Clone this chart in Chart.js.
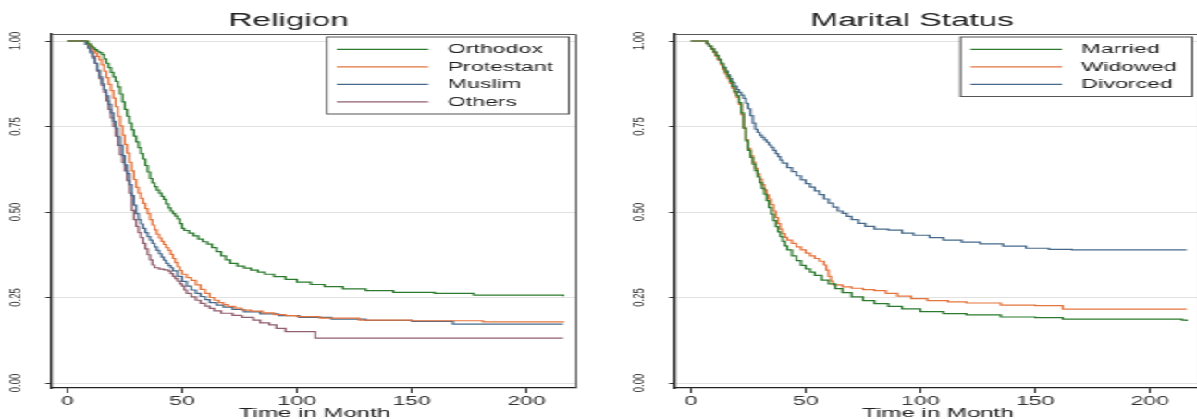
<!DOCTYPE html>
<html>
<head>
<meta charset="utf-8">
<script src="https://cdn.jsdelivr.net/npm/chart.js@4.4.1/dist/chart.umd.min.js"></script>
<style>
  html, body { margin: 0; padding: 0; background: #fff; overflow: hidden; }
  /* the reference is stretched sideways, so the charts are drawn narrow and widened */
  #stage { position: absolute; left: 0; top: 0; width: 647px; height: 419px; transform: scaleX(1.85); transform-origin: 0 0; }
  .panel { position: absolute; top: 0; width: 340px; height: 419px; }
  #left { left: 0; }
  #right { left: 336.8px; }
</style>
</head>
<body>
<div id="stage">
  <div class="panel" id="left"><canvas id="religion"></canvas></div>
  <div class="panel" id="right"><canvas id="marital"></canvas></div>
</div>
<script>
// ===== Data (Kaplan-Meier estimates) =====
const xTicks = [0, 50, 100, 150, 200];
const yTicks = [0, 0.25, 0.5, 0.75, 1];

// Religion
const religionLabels = ["Orthodox", "Protestant", "Muslim", "Others"];
const orthodoxTime = [0, 9, 10, 11, 12, 13, 14, 15, 16, 17, 18, 19, 20, 21, 22, 23, 24, 25, 26, 27, 28, 29, 30, 31, 32, 33, 34, 35, 36, 37, 38, 39, 40, 41, 42, 43, 44, 45, 46, 47, 48, 49, 50, 51, 53, 55, 57, 59, 61, 63, 65, 67, 69, 71, 74, 77, 80, 83, 86, 90, 95, 100, 106, 112, 120, 130, 142, 160, 177, 216];
const orthodoxSurv = [1, 0.992, 0.985, 0.980, 0.975, 0.970, 0.966, 0.960, 0.948, 0.935, 0.922, 0.908, 0.895, 0.882, 0.866, 0.845, 0.822, 0.800, 0.780, 0.760, 0.740, 0.722, 0.705, 0.688, 0.671, 0.655, 0.636, 0.617, 0.598, 0.585, 0.574, 0.564, 0.555, 0.546, 0.537, 0.524, 0.512, 0.503, 0.495, 0.488, 0.480, 0.466, 0.452, 0.446, 0.438, 0.430, 0.421, 0.413, 0.406, 0.396, 0.384, 0.372, 0.360, 0.350, 0.342, 0.336, 0.330, 0.324, 0.318, 0.311, 0.303, 0.295, 0.288, 0.282, 0.275, 0.270, 0.265, 0.262, 0.257, 0.254];
const protestantTime = [0, 9, 10, 11, 12, 13, 14, 15, 16, 17, 18, 19, 20, 21, 22, 23, 24, 25, 26, 27, 28, 29, 30, 31, 32, 33, 34, 35, 36, 37, 38, 39, 40, 41, 42, 43, 44, 45, 46, 47, 48, 49, 50, 52, 54, 56, 58, 60, 62, 64, 66, 68, 70, 73, 76, 80, 85, 90, 95, 100, 110, 127, 150, 181, 216];
const protestantSurv = [1, 0.990, 0.983, 0.975, 0.965, 0.955, 0.945, 0.930, 0.912, 0.893, 0.873, 0.855, 0.833, 0.808, 0.780, 0.752, 0.725, 0.698, 0.672, 0.645, 0.620, 0.595, 0.572, 0.555, 0.540, 0.525, 0.510, 0.495, 0.478, 0.462, 0.448, 0.435, 0.424, 0.414, 0.405, 0.396, 0.388, 0.376, 0.364, 0.352, 0.340, 0.329, 0.318, 0.308, 0.300, 0.287, 0.274, 0.262, 0.250, 0.242, 0.235, 0.229, 0.224, 0.219, 0.213, 0.210, 0.205, 0.200, 0.197, 0.194, 0.190, 0.184, 0.182, 0.179, 0.177];
const muslimTime = [0, 8, 9, 10, 11, 12, 13, 14, 15, 16, 17, 18, 19, 20, 21, 22, 23, 24, 25, 26, 27, 28, 29, 30, 31, 32, 33, 34, 35, 36, 37, 38, 39, 40, 41, 42, 43, 44, 45, 46, 48, 50, 52, 54, 56, 58, 60, 62, 65, 68, 72, 77, 84, 92, 101, 115, 130, 150, 168, 216];
const muslimSurv = [1, 0.990, 0.980, 0.965, 0.950, 0.935, 0.915, 0.895, 0.875, 0.857, 0.840, 0.815, 0.790, 0.765, 0.745, 0.720, 0.695, 0.665, 0.638, 0.612, 0.580, 0.548, 0.520, 0.495, 0.478, 0.465, 0.452, 0.440, 0.428, 0.418, 0.408, 0.398, 0.388, 0.378, 0.368, 0.359, 0.350, 0.343, 0.337, 0.328, 0.312, 0.297, 0.283, 0.272, 0.262, 0.253, 0.244, 0.235, 0.228, 0.222, 0.215, 0.208, 0.202, 0.197, 0.192, 0.187, 0.183, 0.180, 0.172, 0.172];
const othersTime = [0, 8, 9, 10, 11, 12, 13, 14, 15, 16, 17, 18, 19, 20, 21, 22, 23, 24, 25, 26, 27, 28, 29, 30, 31, 32, 33, 34, 35, 36, 37, 38, 40, 42, 44, 45, 46, 47, 48, 49, 50, 51, 52, 54, 56, 58, 60, 62, 64, 67, 72, 76, 81, 84, 88, 91, 95, 108, 216];
const othersSurv = [1, 0.990, 0.980, 0.970, 0.955, 0.935, 0.912, 0.890, 0.870, 0.850, 0.825, 0.800, 0.775, 0.750, 0.722, 0.695, 0.668, 0.645, 0.620, 0.592, 0.555, 0.505, 0.478, 0.458, 0.440, 0.425, 0.408, 0.392, 0.375, 0.360, 0.345, 0.337, 0.333, 0.331, 0.327, 0.320, 0.312, 0.305, 0.298, 0.290, 0.283, 0.272, 0.262, 0.252, 0.242, 0.233, 0.225, 0.218, 0.211, 0.204, 0.198, 0.192, 0.184, 0.176, 0.170, 0.160, 0.150, 0.131, 0.131];

// Marital status
const maritalLabels = ["Married", "Widowed", "Divorced"];
const marriedTime = [0, 7, 8, 9, 10, 11, 12, 13, 14, 15, 16, 17, 18, 19, 20, 21, 22, 23, 24, 25, 26, 27, 28, 29, 30, 31, 32, 33, 34, 35, 36, 37, 38, 39, 40, 41, 42, 44, 46, 48, 50, 52, 54, 57, 60, 63, 66, 70, 75, 80, 86, 92, 100, 110, 120, 135, 150, 162, 214, 216];
const marriedSurv = [1, 0.992, 0.985, 0.977, 0.968, 0.958, 0.947, 0.935, 0.922, 0.909, 0.896, 0.882, 0.867, 0.852, 0.840, 0.820, 0.790, 0.745, 0.708, 0.680, 0.660, 0.640, 0.621, 0.603, 0.586, 0.569, 0.552, 0.533, 0.513, 0.494, 0.475, 0.457, 0.442, 0.428, 0.414, 0.401, 0.389, 0.372, 0.358, 0.344, 0.334, 0.324, 0.315, 0.301, 0.290, 0.276, 0.264, 0.252, 0.241, 0.232, 0.224, 0.217, 0.209, 0.203, 0.199, 0.193, 0.191, 0.187, 0.184, 0.181];
const widowedTime = [0, 7, 8, 9, 10, 11, 12, 13, 14, 15, 16, 17, 18, 19, 20, 21, 22, 23, 24, 25, 26, 27, 28, 29, 30, 31, 32, 33, 34, 35, 36, 37, 38, 39, 40, 41, 42, 44, 46, 48, 50, 52, 54, 56, 58, 59, 60, 61, 62, 66, 70, 75, 80, 85, 90, 96, 103, 112, 120, 135, 150, 162, 216];
const widowedSurv = [1, 0.992, 0.985, 0.976, 0.966, 0.955, 0.943, 0.930, 0.917, 0.904, 0.890, 0.876, 0.862, 0.848, 0.835, 0.815, 0.785, 0.745, 0.712, 0.686, 0.665, 0.646, 0.628, 0.612, 0.596, 0.580, 0.565, 0.550, 0.538, 0.522, 0.503, 0.484, 0.466, 0.450, 0.437, 0.426, 0.418, 0.408, 0.398, 0.389, 0.380, 0.372, 0.364, 0.356, 0.345, 0.330, 0.312, 0.298, 0.287, 0.281, 0.277, 0.273, 0.270, 0.262, 0.254, 0.247, 0.241, 0.237, 0.234, 0.228, 0.226, 0.216, 0.216];
const divorcedTime = [0, 7, 8, 9, 10, 11, 12, 13, 14, 15, 16, 17, 18, 19, 20, 21, 22, 23, 24, 25, 26, 27, 28, 29, 30, 31, 32, 33, 34, 35, 36, 37, 38, 39, 40, 42, 44, 46, 48, 50, 52, 54, 56, 58, 60, 62, 64, 66, 68, 70, 73, 76, 80, 86, 92, 97, 104, 110, 118, 126, 136, 146, 156, 166, 216];
const divorcedSurv = [1, 0.992, 0.985, 0.977, 0.967, 0.957, 0.946, 0.935, 0.924, 0.913, 0.901, 0.890, 0.879, 0.868, 0.858, 0.850, 0.842, 0.832, 0.818, 0.802, 0.782, 0.760, 0.742, 0.733, 0.725, 0.718, 0.711, 0.704, 0.696, 0.689, 0.680, 0.671, 0.662, 0.652, 0.643, 0.630, 0.618, 0.606, 0.594, 0.583, 0.573, 0.562, 0.551, 0.538, 0.526, 0.514, 0.503, 0.496, 0.487, 0.478, 0.467, 0.458, 0.450, 0.447, 0.438, 0.432, 0.425, 0.418, 0.412, 0.407, 0.400, 0.394, 0.391, 0.389, 0.389];

const seriesColors = ["#2b7a2e", "#e5743c", "#46698b", "#905e6c"];

// ===== Plugins =====
const FONT = '"Liberation Sans", Arial, sans-serif';
Chart.defaults.font.family = FONT;
Chart.defaults.color = "#222";

// gray outline on top and right of the plot region
const framePlugin = {
  id: "frame",
  beforeDatasetsDraw(chart) {
    const { ctx, chartArea: a } = chart;
    ctx.save();
    ctx.strokeStyle = "#555";
    ctx.lineWidth = 1;
    ctx.beginPath();
    ctx.moveTo(a.left, a.top + 0.5);
    ctx.lineTo(a.right - 0.5, a.top + 0.5);
    ctx.lineTo(a.right - 0.5, a.bottom);
    ctx.stroke();
    ctx.restore();
  }
};

// boxed legend in the top right corner
const boxLegend = {
  id: "boxLegend",
  afterDraw(chart) {
    const { ctx, chartArea } = chart;
    const sets = chart.data.datasets;
    ctx.save();
    ctx.font = "12.5px " + FONT;
    const maxW = Math.max(...sets.map(d => ctx.measureText(d.label).width));
    const lineLen = 49.5, padL = 5.4, gap = 10.5, padR = 8.5, rowH = 17.5;
    const w = padL + lineLen + gap + maxW + padR;
    const h = 24.5 + (sets.length - 1) * rowH;
    const left = chartArea.right - 4.4 - w;
    const top = chartArea.top + 3;
    ctx.fillStyle = "#fff";
    ctx.fillRect(left, top, w, h);
    ctx.strokeStyle = "#555";
    ctx.lineWidth = 1;
    ctx.strokeRect(left, top, w, h);
    sets.forEach((d, i) => {
      const y = top + 12.3 + i * rowH;
      ctx.strokeStyle = d.borderColor;
      ctx.lineWidth = 1.2;
      ctx.beginPath();
      ctx.moveTo(left + padL, y);
      ctx.lineTo(left + padL + lineLen, y);
      ctx.stroke();
      ctx.fillStyle = "#222";
      ctx.textBaseline = "middle";
      ctx.textAlign = "left";
      ctx.fillText(d.label, left + padL + lineLen + gap, y + 0.5);
    });
    ctx.restore();
  }
};

// ===== Chart builder =====
function survivalChart(canvasId, title, labels, times, survs) {
  const datasets = labels.map((lab, i) => ({
    label: lab,
    data: times[i].map((t, k) => ({ x: t, y: survs[i][k] })),
    borderColor: seriesColors[i],
    borderWidth: 1.2,
    pointRadius: 0,
    stepped: true,
    fill: false
  }));

  return new Chart(document.getElementById(canvasId), {
    type: "line",
    data: { datasets },
    options: {
      responsive: true,
      maintainAspectRatio: false,
      animation: false,
      events: [],
      layout: { padding: { left: 0, right: 28.1, top: 0, bottom: 0 } },
      plugins: {
        legend: { display: false },
        tooltip: { enabled: false },
        title: {
          display: true,
          text: title,
          color: "#222",
          font: { size: 18, weight: "normal" },
          padding: { top: 10, bottom: 2.4 }
        }
      },
      scales: {
        x: {
          type: "linear",
          min: -6.7,
          max: 222,
          afterBuildTicks: s => { s.ticks = xTicks.map(v => ({ value: v })); },
          afterFit: s => { s.height = 31; },
          grid: { drawOnChartArea: false, drawTicks: true, tickLength: 5, tickColor: "#333" },
          border: { display: true, color: "#222", width: 1.2 },
          ticks: { font: { size: 12.5 }, color: "#333", padding: 1, maxRotation: 0 },
          title: { display: true, text: "Time in Month", color: "#222", font: { size: 13, lineHeight: 1 }, padding: { top: 0, bottom: -1 } }
        },
        y: {
          min: -0.0146,
          max: 1.0205,
          afterBuildTicks: s => { s.ticks = yTicks.map(v => ({ value: v })); },
          afterFit: s => { s.width = 28.1; },
          grid: { color: "#e2e2e2", lineWidth: 1, drawTicks: true, tickLength: 3.5, tickColor: "#333" },
          border: { display: true, color: "#222", width: 1.3 },
          ticks: {
            font: { size: 9.5 },
            color: "#333",
            minRotation: 90,
            maxRotation: 90,
            crossAlign: "center",
            padding: 7.2,
            callback: v => v.toFixed(2)
          }
        }
      }
    },
    plugins: [framePlugin, boxLegend]
  });
}

survivalChart("religion", "Religion", religionLabels,
  [orthodoxTime, protestantTime, muslimTime, othersTime],
  [orthodoxSurv, protestantSurv, muslimSurv, othersSurv]);

survivalChart("marital", "Marital Status", maritalLabels,
  [marriedTime, widowedTime, divorcedTime],
  [marriedSurv, widowedSurv, divorcedSurv]);
</script>
</body>
</html>
